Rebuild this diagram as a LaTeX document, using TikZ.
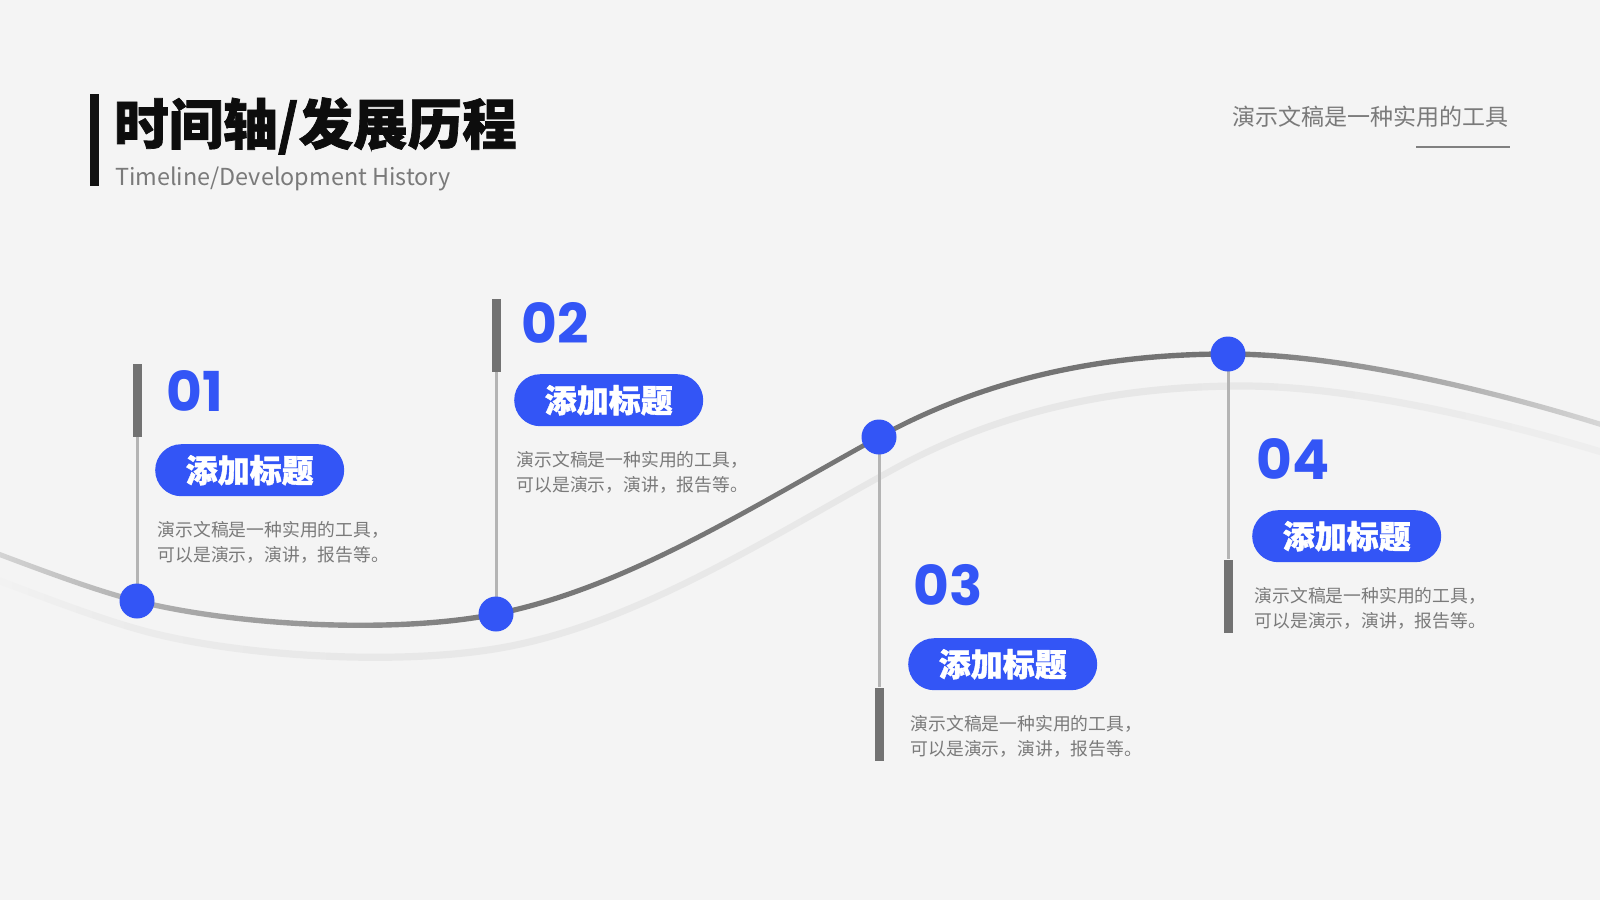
\documentclass[tikz,border=0pt]{standalone}
\usepackage{fontspec}
\setmainfont{Noto Sans CJK SC}
\newfontfamily\cjk{Noto Sans CJK SC}
\newfontfamily\cjkheavy[BoldFeatures={FakeBold=1.3}]{Noto Sans CJK SC}
\newfontfamily\numfont{Poppins}
\definecolor{bg}{HTML}{F4F4F4}
\definecolor{brandblue}{HTML}{3355F6}
\definecolor{stemgray}{HTML}{B4B4B4}
\definecolor{bargray}{HTML}{727272}
\definecolor{desctext}{HTML}{7A7A7A}
\definecolor{subtext}{HTML}{7A7A7A}

% gradient along the main curve (inner 25bp..75bp maps to the path's bounding box)
\pgfdeclarehorizontalshading{curveshade}{100bp}{%
  rgb(0bp)=(0.83,0.83,0.83);
  rgb(26.76bp)=(0.83,0.83,0.83);
  rgb(30.79bp)=(0.69,0.69,0.69);
  rgb(37.26bp)=(0.56,0.56,0.56);
  rgb(41.35bp)=(0.47,0.47,0.47);
  rgb(62.88bp)=(0.45,0.45,0.45);
  rgb(67.9bp)=(0.63,0.63,0.63);
  rgb(73.82bp)=(0.84,0.84,0.84);
  rgb(100bp)=(0.84,0.84,0.84)}
% gradient along the faint shadow curve
\pgfdeclarehorizontalshading{faintshade}{100bp}{%
  rgb(0bp)=(0.95,0.95,0.95);
  rgb(26.3bp)=(0.95,0.95,0.95);
  rgb(29.3bp)=(0.925,0.925,0.925);
  rgb(35.1bp)=(0.912,0.912,0.912);
  rgb(60bp)=(0.905,0.905,0.905);
  rgb(67.5bp)=(0.918,0.918,0.918);
  rgb(73.4bp)=(0.935,0.935,0.935);
  rgb(100bp)=(0.935,0.935,0.935)}

\tikzset{
  desc/.style={anchor=north west, inner sep=0pt, text=desctext, font=\cjk\fontsize{17.8}{24.5}\selectfont, align=left},
  pill/.style={fill=brandblue, text=white, rounded corners=26pt, minimum width=189pt, minimum height=52pt, inner sep=0pt, anchor=north west, font=\cjkheavy\bfseries\fontsize{32}{32}\selectfont},
  numlabel/.style={anchor=base west, inner sep=0pt, text=brandblue, font=\numfont\bfseries\fontsize{55}{55}\selectfont},
  barbox/.style={fill=bargray, minimum width=9pt, minimum height=73pt, inner sep=0pt},
  dot/.style={circle, fill=brandblue, minimum size=35pt, inner sep=0pt},
  stem/.style={draw=stemgray, line width=3pt},
}

\newcommand\curvefwd[1]{(-60,532#1) .. controls (20,562#1) and (87,588.5#1) .. (137,601#1) .. controls (237,626#1) and (396,634#1) .. (496,614#1) .. controls (626,588#1) and (749,508.5#1) .. (879,437#1) .. controls (989,376.5#1) and (1108,354#1) .. (1228,354#1) .. controls (1350,354#1) and (1520,397#1) .. (1640,437#1)}
\newcommand\curverev[1]{(1640,437#1) .. controls (1520,397#1) and (1350,354#1) .. (1228,354#1) .. controls (1108,354#1) and (989,376.5#1) .. (879,437#1) .. controls (749,508.5#1) and (626,588#1) .. (496,614#1) .. controls (396,634#1) and (237,626#1) .. (137,601#1) .. controls (87,588.5#1) and (20,562#1) .. (-60,532#1)}

\begin{document}
\begin{tikzpicture}[x=1pt,y=-1pt]
\fill[bg] (0,0) rectangle (1600,900);
\useasboundingbox (0,0) rectangle (1600,900);

% title block
\node[fill=black!93, minimum width=9pt, minimum height=92pt, inner sep=0pt] (tbar) at (94.5,140) {};
\node[anchor=base west, inner sep=0pt, font=\cjkheavy\bfseries\fontsize{54.5}{54.5}\selectfont, text=black!95] (title) at (114,144.5) {时间轴/发展历程};
\node[anchor=base west, inner sep=0pt, font=\cjk\fontsize{23.4}{23.4}\selectfont, text=subtext] (subtitle) at (115,185) {Timeline/Development History};

\node[anchor=base east, inner sep=0pt, font=\cjk\fontsize{23}{23}\selectfont, text=subtext] (tagline) at (1509,125.5) {演示文稿是一种实用的工具};
\coordinate (ulA) at (1416,147);
\coordinate (ulB) at (1510,147);
\draw[draw=black!50, line width=2pt] (ulA) -- (ulB);

% curves
\begin{scope}
\clip (0,0) rectangle (1600,900);
\shade[shading=faintshade, shift={(15,32)}] \curvefwd{-3.6} -- \curverev{+3.6} -- cycle;
\shade[shading=curveshade] \curvefwd{-2.7} -- \curverev{+2.7} -- cycle;
\end{scope}

% anchors of the timeline points
\coordinate (k1) at (137,601);
\coordinate (k2) at (496,614);
\coordinate (k3) at (879,437);
\coordinate (k4) at (1228,354);

% bars
\node[barbox] (b1) at (137,400.5) {};
\node[barbox] (b2) at (496,335.5) {};
\node[barbox] (b3) at (879,724) {};
\node[barbox] (b4) at (1228,596) {};

% stems
\draw[stem] (b1.south) -- (k1);
\draw[stem] (b2.south) -- (k2);
\draw[stem] (k3) -- (b3.north);
\draw[stem] (k4) -- (b4.north);

% dots
\node[dot] (c1) at (k1) {};
\node[dot] (c2) at (k2) {};
\node[dot] (c3) at (k3) {};
\node[dot] (c4) at (k4) {};

% item 1
\node[numlabel] (n1) at (166,411) {01};
\node[pill] (p1) at (155,444) {添加标题};
\node[desc] (d1) at (157.5,521.5) {演示文稿是一种实用的工具，\\可以是演示，演讲，报告等。};
% item 2
\node[numlabel] (n2) at (521,343) {02};
\node[pill] (p2) at (514,374) {添加标题};
\node[desc] (d2) at (516.5,451.5) {演示文稿是一种实用的工具，\\可以是演示，演讲，报告等。};
% item 3
\node[numlabel] (n3) at (913,605) {03};
\node[pill] (p3) at (908,638) {添加标题};
\node[desc] (d3) at (910.5,715.5) {演示文稿是一种实用的工具，\\可以是演示，演讲，报告等。};
% item 4
\node[numlabel] (n4) at (1256,479) {04};
\node[pill] (p4) at (1252,510) {添加标题};
\node[desc] (d4) at (1254.5,587.5) {演示文稿是一种实用的工具，\\可以是演示，演讲，报告等。};
\end{tikzpicture}
\end{document}
